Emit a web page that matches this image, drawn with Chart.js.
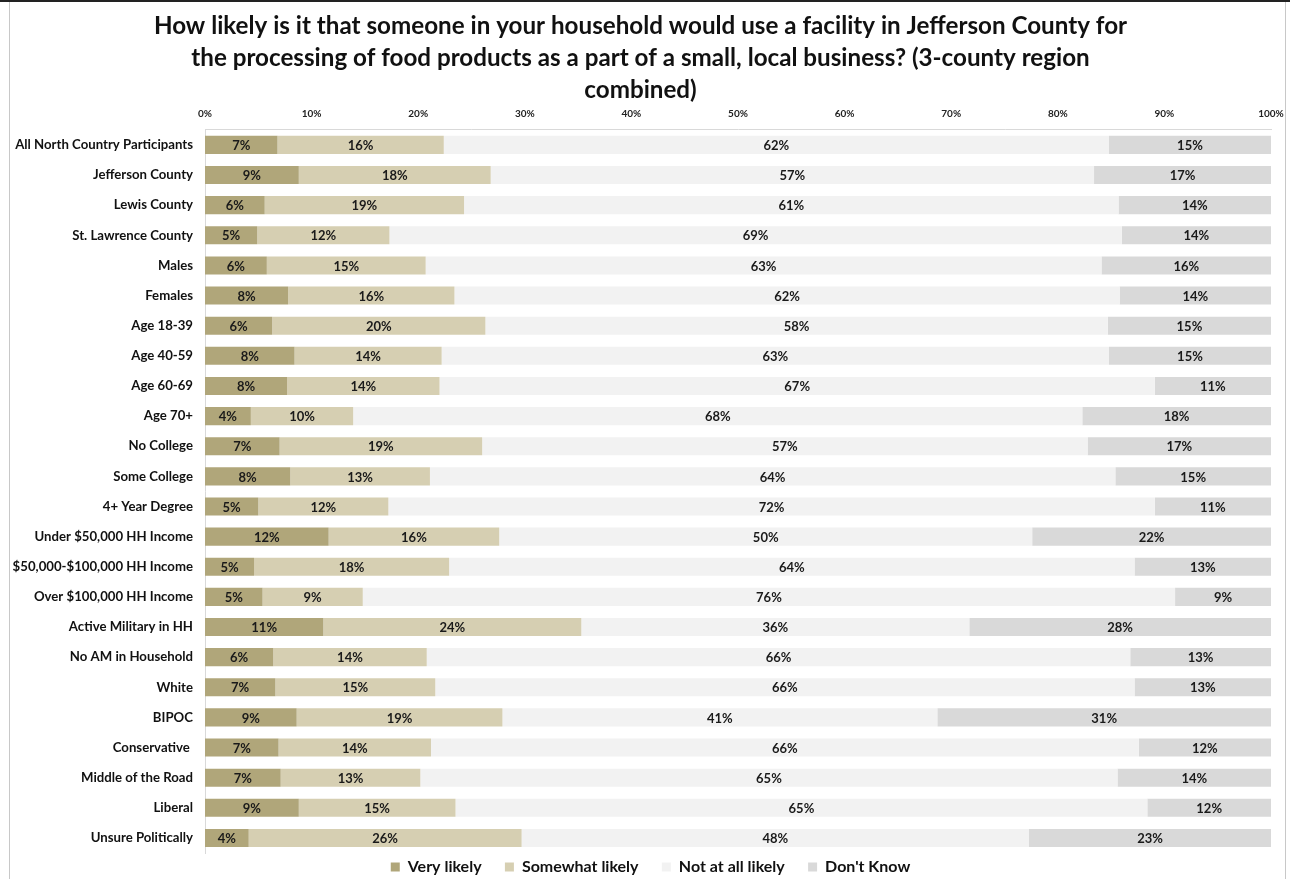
<!DOCTYPE html>
<html>
<head>
<meta charset="utf-8">
<script src="https://cdn.jsdelivr.net/npm/chart.js@4.4.1/dist/chart.umd.min.js"></script>
<style>
  html, body { margin: 0; padding: 0; background: #fff; }
  #wrap { position: relative; width: 1290px; height: 879px; }
</style>
</head>
<body>
<div id="wrap"><canvas id="chart" width="1290" height="879"></canvas></div>
<script>
// categories, top to bottom
const groups = [
  'All North Country Participants', 'Jefferson County', 'Lewis County', 'St. Lawrence County',
  'Males', 'Females', 'Age 18-39', 'Age 40-59', 'Age 60-69', 'Age 70+',
  'No College', 'Some College', '4+ Year Degree', 'Under $50,000 HH Income',
  '$50,000-$100,000 HH Income', 'Over $100,000 HH Income', 'Active Military in HH',
  'No AM in Household', 'White', 'BIPOC', 'Conservative ', 'Middle of the Road',
  'Liberal', 'Unsure Politically'
];

// percent of each group
const veryLikely     = [6.8, 8.8, 5.6, 4.9, 5.8, 7.8, 6.3, 8.4, 7.7, 4.3, 7.0, 8.0, 5.0, 11.6, 4.6, 5.4, 11.1, 6.4, 6.6, 8.6, 6.9, 7.1, 8.8, 4.1];
const somewhatLikely = [15.6, 18.0, 18.7, 12.4, 14.9, 15.6, 20.0, 13.8, 14.3, 9.6, 19.0, 13.1, 12.2, 16.0, 18.3, 9.4, 24.2, 14.4, 15.0, 19.3, 14.3, 13.1, 14.7, 25.6];
const notAtAll       = [62.4, 56.6, 61.4, 68.7, 63.4, 62.4, 58.4, 62.6, 67.1, 68.4, 56.8, 64.3, 71.9, 50.0, 64.3, 76.2, 36.4, 66.0, 65.6, 40.8, 66.4, 65.4, 64.9, 47.6];
const dontKnow       = [15.2, 16.6, 14.3, 14.0, 15.9, 14.2, 15.3, 15.2, 10.9, 17.7, 17.2, 14.6, 10.9, 22.4, 12.8, 9.0, 28.3, 13.2, 12.8, 31.3, 12.4, 14.4, 11.6, 22.7];

const tickValues = [0, 10, 20, 30, 40, 50, 60, 70, 80, 90, 100];

const FONT = 'Lato, "Open Sans", sans-serif';

// white page plus the thin frame round it
const framePlugin = {
  id: 'frame',
  beforeDraw(chart) {
    const c = chart.ctx;
    c.save();
    c.fillStyle = '#fff';
    c.fillRect(0, 0, chart.width, chart.height);
    c.fillStyle = '#c8c8c8';
    c.fillRect(9, 2, 1, chart.height - 2);
    c.fillRect(1285, 2, 1, chart.height - 2);
    c.fillStyle = '#222';
    c.fillRect(0, 0, chart.width, 2);
    c.restore();
  }
};

// nudge the legend a little lower and to the right, like the original
const legendNudge = {
  id: 'legendNudge',
  afterLayout(chart) {
    const lg = chart.legend;
    lg.top += 6; lg.bottom += 6;
    lg.left += 10; lg.right += 10;
  }
};

// percent text in the middle of every segment
const labelPlugin = {
  id: 'segLabels',
  afterDatasetsDraw(chart) {
    const c = chart.ctx;
    c.save();
    c.font = 'bold 13px ' + FONT;
    c.fillStyle = '#1a1a1a';
    c.textAlign = 'center';
    c.textBaseline = 'middle';
    chart.data.datasets.forEach((ds, i) => {
      chart.getDatasetMeta(i).data.forEach((bar, j) => {
        const v = ds.data[j];
        c.fillText(Math.round(v) + '%', (bar.x + bar.base) / 2, bar.y + 1);
      });
    });
    c.restore();
  }
};

new Chart(document.getElementById('chart'), {
  type: 'bar',
  data: {
    labels: groups,
    datasets: [
      { label: 'Very likely', data: veryLikely, backgroundColor: '#b0a67a' },
      { label: 'Somewhat likely', data: somewhatLikely, backgroundColor: '#d6cfb2' },
      { label: 'Not at all likely', data: notAtAll, backgroundColor: '#f2f2f2' },
      { label: "Don't Know", data: dontKnow, backgroundColor: '#d9d9d9' }
    ]
  },
  options: {
    indexAxis: 'y',
    responsive: false,
    animation: false,
    barPercentage: 0.6,
    categoryPercentage: 1.0,
    layout: { padding: { left: 10, right: 19, top: 10, bottom: 0 } },
    scales: {
      x: {
        position: 'top',
        stacked: true,
        min: 0,
        max: 100,
        afterBuildTicks(scale) {
          scale.ticks = tickValues.map(v => ({ value: v }));
        },
        afterFit(scale) {
          scale.height = 22;
          scale.paddingLeft = 0;
          scale.paddingRight = 0;
        },
        grid: { display: false, drawTicks: false },
        border: { display: true, color: '#d9d9d9', width: 1 },
        ticks: {
          padding: 10,
          color: '#222',
          font: { family: FONT, size: 10, weight: 'bold' },
          callback: v => v + '%'
        }
      },
      y: {
        stacked: true,
        afterFit(scale) {
          scale.width = 195;
          scale.paddingTop = 0;
          scale.paddingBottom = 0;
        },
        grid: { display: false, drawTicks: false },
        border: { display: true, color: '#d9d9d9', width: 1 },
        ticks: {
          padding: 12,
          autoSkip: false,
          color: '#111',
          font: { family: FONT, size: 13.2, weight: 'bold' }
        }
      }
    },
    plugins: {
      title: {
        display: true,
        text: [
          'How likely is it that someone in your household would use a facility in Jefferson County for',
          'the processing of food products as a part of a small, local business? (3-county region',
          'combined)'
        ],
        color: '#111',
        font: { family: FONT, size: 24.2, weight: 'bold', lineHeight: 1.32 },
        padding: { top: 0, bottom: 2 }
      },
      legend: {
        position: 'bottom',
        labels: {
          boxWidth: 9,
          boxHeight: 9,
          padding: 0,
          color: '#111',
          font: { family: FONT, size: 16, weight: 'bold', lineHeight: 1 },
          generateLabels(chart) {
            const items = Chart.defaults.plugins.legend.labels.generateLabels(chart);
            items.forEach((it, i) => {
              if (i < items.length - 1) it.text = it.text + '      ';
            });
            return items;
          }
        }
      },
      tooltip: { enabled: false }
    }
  },
  plugins: [framePlugin, legendNudge, labelPlugin]
});
</script>
</body>
</html>
